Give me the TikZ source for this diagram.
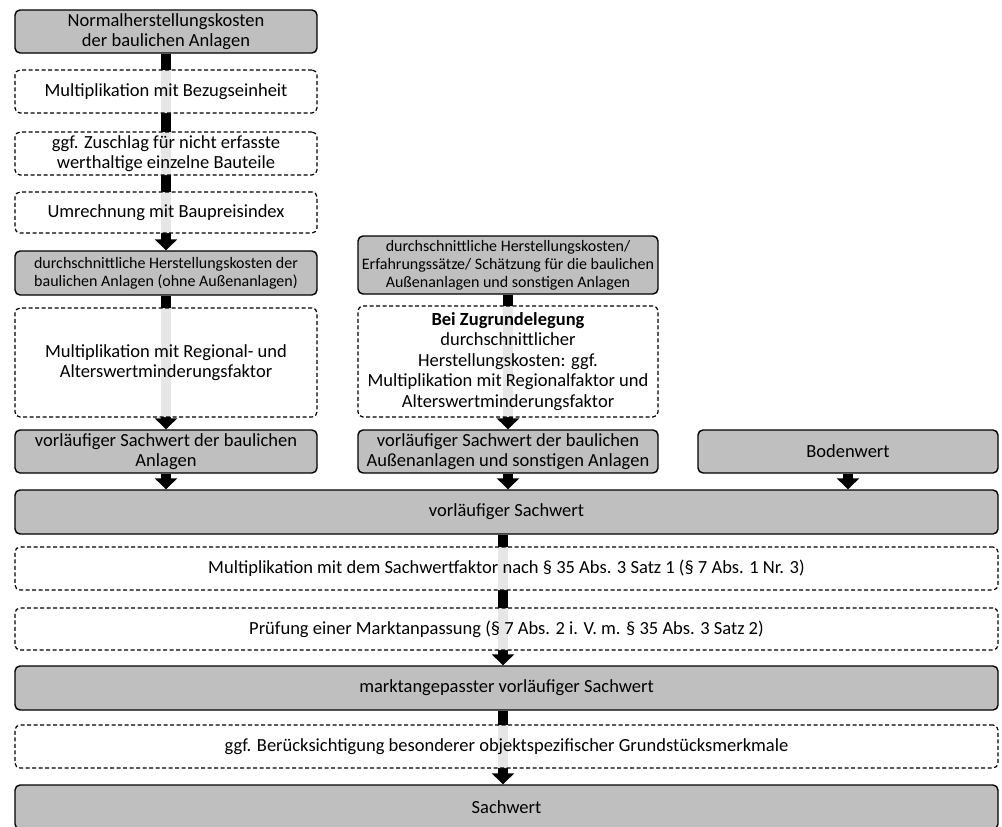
\documentclass[tikz,border=0pt]{standalone}
\usepackage{fontspec}
\setmainfont{Carlito}
\usetikzlibrary{arrows.meta}
\definecolor{boxgray}{HTML}{BFBFBF}
\begin{document}
\begin{tikzpicture}[x=1pt,y=-1pt,
  basebox/.style={align=center, inner sep=2pt, rounded corners=5pt,
    font=\fontsize{18.5}{20.5}\selectfont},
  solidbox/.style={basebox, draw, line width=1.4pt, fill=boxgray},
  dashbox/.style={basebox, draw, line width=1.2pt, dash pattern=on 4pt off 2.5pt,
    fill=white, fill opacity=0.9, text opacity=1},
  smallfont/.style={font=\fontsize{16}{18}\selectfont},
  flow/.style={line width=10pt, -{Triangle[length=11pt,width=22pt]}},
  lw/.style={minimum width=302pt},
  mw/.style={minimum width=300pt},
  fw/.style={minimum width=983pt}]
\clip (0,0) rectangle (1002,827);
\fill[white] (0,0) rectangle (1002,827);
% solid boxes
\node[solidbox,lw,minimum height=43pt] (b1) at (166,31.5) {Normalherstellungskosten\\der baulichen Anlagen};
\node[solidbox,lw,smallfont,minimum height=44pt] (b5) at (166,273) {durchschnittliche Herstellungskosten der\\baulichen Anlagen (ohne Außenanlagen)};
\node[solidbox,lw,minimum height=43pt] (b7) at (166,451.5) {vorläufiger Sachwert der baulichen\\Anlagen};
\node[solidbox,mw,smallfont,minimum height=58pt,inner sep=1pt] (m1) at (508,265) {durchschnittliche Herstellungskosten/\\Erfahrungssätze/ Schätzung für die baulichen\\Außenanlagen und sonstigen Anlagen};
\node[solidbox,mw,minimum height=43pt] (m3) at (508,451.5) {vorläufiger Sachwert der baulichen\\Außenanlagen und sonstigen Anlagen};
\node[solidbox,mw,minimum height=43pt] (r1) at (848,451.5) {Bodenwert};
\node[solidbox,fw,minimum height=44pt] (f1) at (506.5,512) {vorläufiger Sachwert};
\node[solidbox,fw,minimum height=44pt] (f4) at (506.5,688) {marktangepasster vorläufiger Sachwert};
\node[solidbox,fw,minimum height=44pt] (f6) at (506.5,807) {Sachwert};
% connectors
\draw[flow] (b1.south) -- (b5.north);
\draw[flow] (b5.south) -- (b7.north);
\draw[flow] (m1.south) -- (m3.north);
\draw[flow] (b7.south) -- (b7.south |- f1.north);
\draw[flow] (m3.south) -- (m3.south |- f1.north);
\draw[flow] (r1.south) -- (r1.south |- f1.north);
\draw[flow] ([xshift=-3.5pt]f1.south) -- ([xshift=-3.5pt]f4.north);
\draw[flow] ([xshift=-3.5pt]f4.south) -- ([xshift=-3.5pt]f6.north);
% dashed boxes
\node[dashbox,lw,minimum height=43pt] (b2) at (166,91.5) {Multiplikation mit Bezugseinheit};
\node[dashbox,lw,minimum height=43pt] (b3) at (166,153.5) {ggf. Zuschlag für nicht erfasste\\werthaltige einzelne Bauteile};
\node[dashbox,lw,minimum height=41pt] (b4) at (166,212.5) {Umrechnung mit Baupreisindex};
\node[dashbox,lw,minimum height=109pt] (b6) at (166,362.5) {Multiplikation mit Regional- und\\Alterswertminderungsfaktor};
\node[dashbox,mw,minimum height=111pt,inner sep=1pt] (m2) at (508,361.5) {\textbf{Bei Zugrundelegung}\\durchschnittlicher\\Herstellungskosten: ggf.\\Multiplikation mit Regionalfaktor und\\Alterswertminderungsfaktor};
\node[dashbox,fw,minimum height=43pt] (f2) at (506.5,568.5) {Multiplikation mit dem Sachwertfaktor nach § 35 Abs. 3 Satz 1 (§ 7 Abs. 1 Nr. 3)};
\node[dashbox,fw,minimum height=42pt] (f3) at (506.5,629) {Prüfung einer Marktanpassung (§ 7 Abs. 2 i. V. m. § 35 Abs. 3 Satz 2)};
\node[dashbox,fw,minimum height=43pt] (f5) at (506.5,746.5) {ggf. Berücksichtigung besonderer objektspezifischer Grundstücksmerkmale};
\end{tikzpicture}
\end{document}
